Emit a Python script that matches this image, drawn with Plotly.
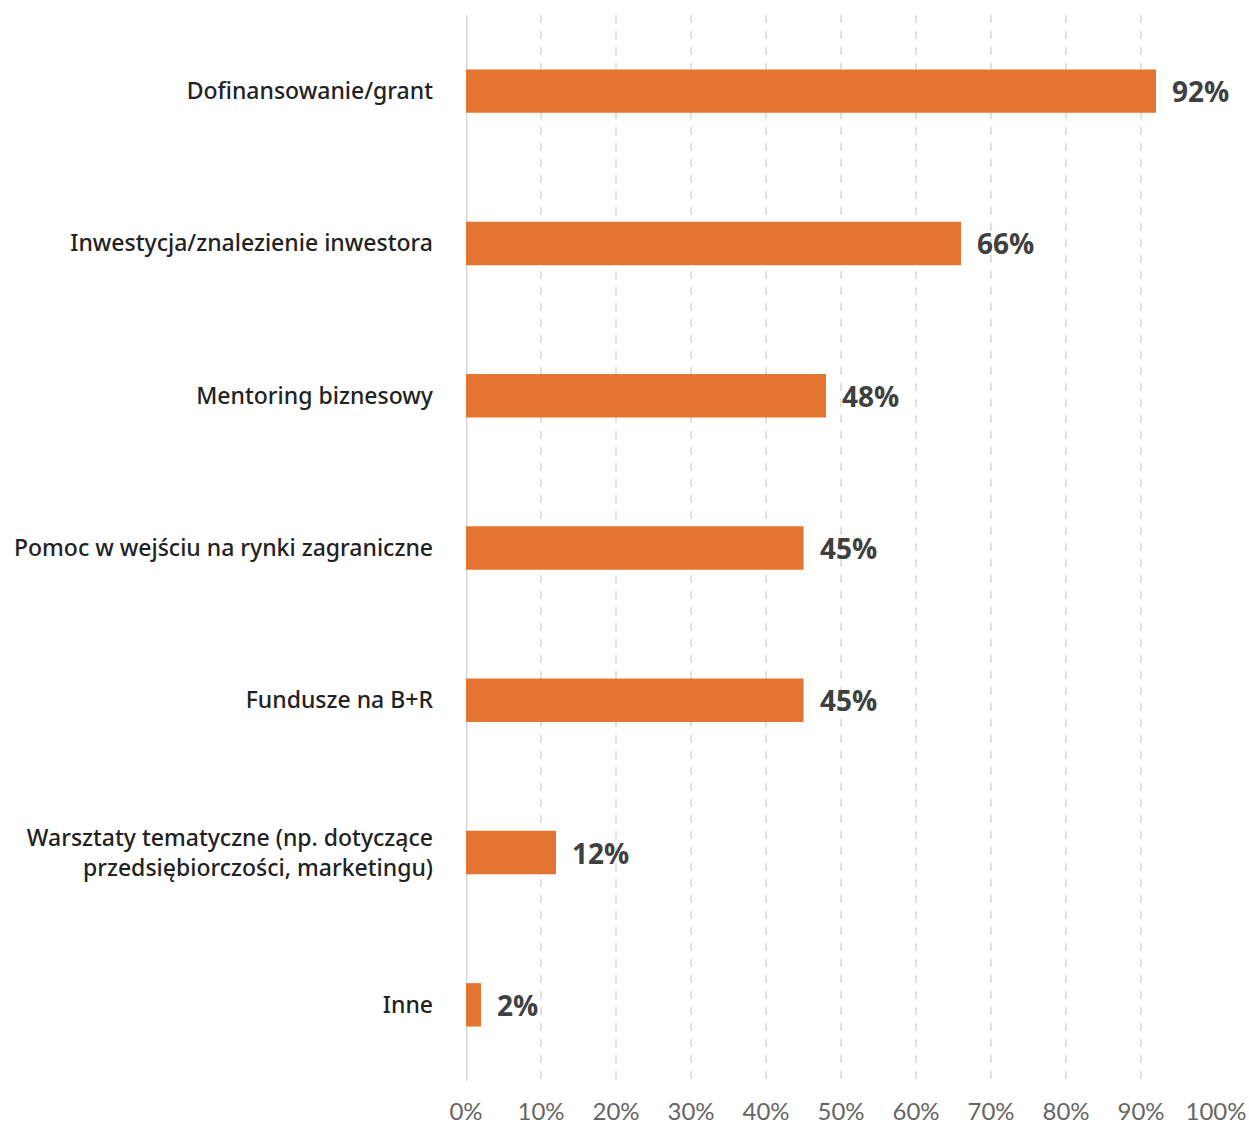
import plotly.graph_objects as go

# Survey answers: forms of support, share of respondents (%)
categories = [
    "Dofinansowanie/grant",
    "Inwestycja/znalezienie inwestora",
    "Mentoring biznesowy",
    "Pomoc w wejściu na rynki zagraniczne",
    "Fundusze na B+R",
    "Warsztaty tematyczne (np. dotyczące<br>przedsiębiorczości, marketingu)",
    "Inne",
]
values = [92, 66, 48, 45, 45, 12, 2]
tick_values = [0, 10, 20, 30, 40, 50, 60, 70, 80, 90, 100]
tick_labels = [f"{v}%" for v in tick_values]

BAR_COLOR = "#E37531"

fig = go.Figure()
fig.add_trace(
    go.Bar(
        x=values,
        y=categories,
        orientation="h",
        marker=dict(color=BAR_COLOR, line=dict(width=0)),
        width=0.285,
        hoverinfo="skip",
    )
)

# value labels to the right of each bar
for cat, val in zip(categories, values):
    fig.add_annotation(
        x=val,
        y=cat,
        text=f"<b>{val}%</b>",
        showarrow=False,
        xanchor="left",
        yanchor="middle",
        xshift=14,
        font=dict(family="Open Sans", size=28, color="#404040"),
    )

fig.update_layout(
    width=1249,
    height=1128,
    margin=dict(l=466, r=33, t=15, b=47),
    plot_bgcolor="white",
    paper_bgcolor="white",
    showlegend=False,
    bargap=0.7,
    xaxis=dict(
        range=[0, 100],
        tickvals=tick_values,
        ticktext=tick_labels,
        showgrid=True,
        gridcolor="#e0e0e0",
        gridwidth=2,
        griddash="8px,8px",
        zeroline=False,
        showline=False,
        ticks="",
        ticklabelstandoff=14,
        ticklabeloverflow="allow",
        automargin=False,
        tickfont=dict(family="Lato", size=24, color="#666666"),
        fixedrange=True,
    ),
    yaxis=dict(
        categoryorder="array",
        categoryarray=categories,
        autorange="reversed",
        showgrid=False,
        zeroline=False,
        showline=False,
        ticks="",
        ticklabelstandoff=32,
        automargin=False,
        tickfont=dict(family="Noto Sans", size=23, color="#222222", weight=500),
        fixedrange=True,
    ),
)

# solid baseline at 0%
fig.add_shape(
    type="line",
    xref="x",
    yref="paper",
    x0=0,
    x1=0,
    y0=0,
    y1=1,
    line=dict(color="#d9d9d9", width=3),
    layer="below",
)

fig.write_html("out.html")
